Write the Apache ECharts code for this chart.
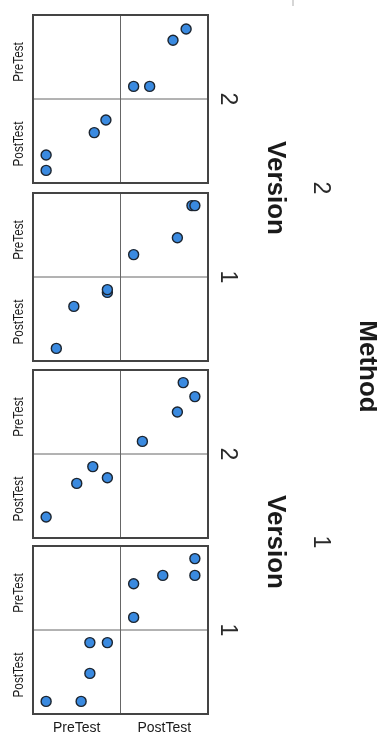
<!DOCTYPE html>
<html>
<head>
<meta charset="utf-8">
<script src="https://cdn.jsdelivr.net/npm/echarts@6/dist/echarts.min.js"></script>
<style>
html,body{margin:0;padding:0;background:#fff;}
#chart{width:377px;height:736px;}
</style>
</head>
<body>
<div id="chart"></div>
<script>
// Panels from top to bottom: Method 2 / Version 2, Method 2 / Version 1, Method 1 / Version 2, Method 1 / Version 1
const panelMethod = ['2', '2', '1', '1'];
const panelVersion = ['2', '1', '2', '1'];
const variables = ['PreTest', 'PostTest'];

const preM2V2 = [90, 82, 49, 49];
const postM2V2 = [85, 76, 49, 60];
const preM2V1 = [91, 91, 68, 56];
const postM2V1 = [89, 91, 79, 49];
const preM1V2 = [91, 81, 70, 49];
const postM1V2 = [83, 91, 79, 55];
const preM1V1 = [73, 49, 79, 91, 79];
const postM1V1 = [49, 49, 69, 91, 91];

const preList = [preM2V2, preM2V1, preM1V2, preM1V1];
const postList = [postM2V2, postM2V1, postM1V2, postM1V1];

const axisMin = 40, axisMax = 100;

// layout
const L = 33, W = 175, CW = W / 2;
const tops = [15, 193, 370, 546];
const H = 168, CH = H / 2;

const grids = [], xAxes = [], yAxes = [], series = [], graphics = [];
const textColor = '#1a1a1a';
const sansFont = "'Liberation Sans', Arial, sans-serif";

tops.forEach((top, p) => {
  // top-right cell: x = PostTest, y = PreTest
  grids.push({left: L + CW, top: top, width: CW, height: CH, show: true,
    borderColor: '#666666', borderWidth: 1, backgroundColor: 'transparent'});
  // bottom-left cell: x = PreTest, y = PostTest
  grids.push({left: L, top: top + CH, width: CW, height: CH, show: true,
    borderColor: '#666666', borderWidth: 1, backgroundColor: 'transparent'});
  for (let k = 0; k < 2; k++) {
    const gi = p * 2 + k;
    xAxes.push({type: 'value', gridIndex: gi, min: axisMin, max: axisMax, show: false});
    yAxes.push({type: 'value', gridIndex: gi, min: axisMin, max: axisMax, show: false});
  }
  const pre = preList[p], post = postList[p];
  const common = {type: 'scatter', symbolSize: 10, silent: true,
    itemStyle: {color: '#3a8ae0', borderColor: '#1c2530', borderWidth: 1.4, opacity: 1}};
  series.push(Object.assign({}, common, {xAxisIndex: p * 2, yAxisIndex: p * 2,
    data: post.map((v, i) => [v, pre[i]])}));
  series.push(Object.assign({}, common, {xAxisIndex: p * 2 + 1, yAxisIndex: p * 2 + 1,
    data: pre.map((v, i) => [v, post[i]])}));

  // outer frame
  graphics.push({type: 'rect', z: 100, silent: true,
    shape: {x: L, y: top, width: W, height: H},
    style: {fill: 'none', stroke: '#444444', lineWidth: 2}});

  // left row labels (rotated CCW)
  graphics.push({type: 'text', x: 19, y: top + CH / 2 + 5, rotation: Math.PI / 2, scaleX: 0.78, silent: true,
    style: {text: variables[0], font: '15px ' + sansFont, fill: textColor, align: 'center', verticalAlign: 'middle'}});
  graphics.push({type: 'text', x: 19, y: top + CH + CH / 2 + 3, rotation: Math.PI / 2, scaleX: 0.78, silent: true,
    style: {text: variables[1], font: '15px ' + sansFont, fill: textColor, align: 'center', verticalAlign: 'middle'}});

  // Version level label (rotated CW)
  graphics.push({type: 'text', x: 227, y: top + H / 2, rotation: -Math.PI / 2, silent: true,
    style: {text: panelVersion[p], font: '23px ' + sansFont, fill: '#2a2a2a', align: 'center', verticalAlign: 'middle'}});
});

// Version titles and Method levels (one per method pair)
[0, 2].forEach(p => {
  const cy = ((tops[p] + H / 2) + (tops[p + 1] + H / 2)) / 2;
  graphics.push({type: 'text', x: 275, y: cy, rotation: -Math.PI / 2, silent: true,
    style: {text: 'Version', font: 'bold 26px ' + sansFont, fill: textColor, align: 'center', verticalAlign: 'middle'}});
  graphics.push({type: 'text', x: 320, y: cy, rotation: -Math.PI / 2, silent: true,
    style: {text: panelMethod[p], font: '23px ' + sansFont, fill: '#2a2a2a', align: 'center', verticalAlign: 'middle'}});
});
graphics.push({type: 'text', x: 367, y: (tops[0] + tops[3] + H) / 2 + 2, rotation: -Math.PI / 2, silent: true,
  style: {text: 'Method', font: 'bold 26px ' + sansFont, fill: textColor, align: 'center', verticalAlign: 'middle'}});

// bottom column labels
variables.forEach((v, i) => {
  graphics.push({type: 'text', x: L + CW * i + CW / 2, y: 728, silent: true,
    style: {text: v, font: '14px ' + sansFont, fill: textColor, align: 'center', verticalAlign: 'middle'}});
});

// faint stub at top
graphics.push({type: 'rect', silent: true, shape: {x: 292, y: 0, width: 2, height: 6}, style: {fill: '#d6d6d6'}});

const chart = echarts.init(document.getElementById('chart'), null, {renderer: 'canvas'});
chart.setOption({
  animation: false,
  backgroundColor: '#ffffff',
  grid: grids,
  xAxis: xAxes,
  yAxis: yAxes,
  series: series,
  graphic: graphics
});
</script>
</body>
</html>
